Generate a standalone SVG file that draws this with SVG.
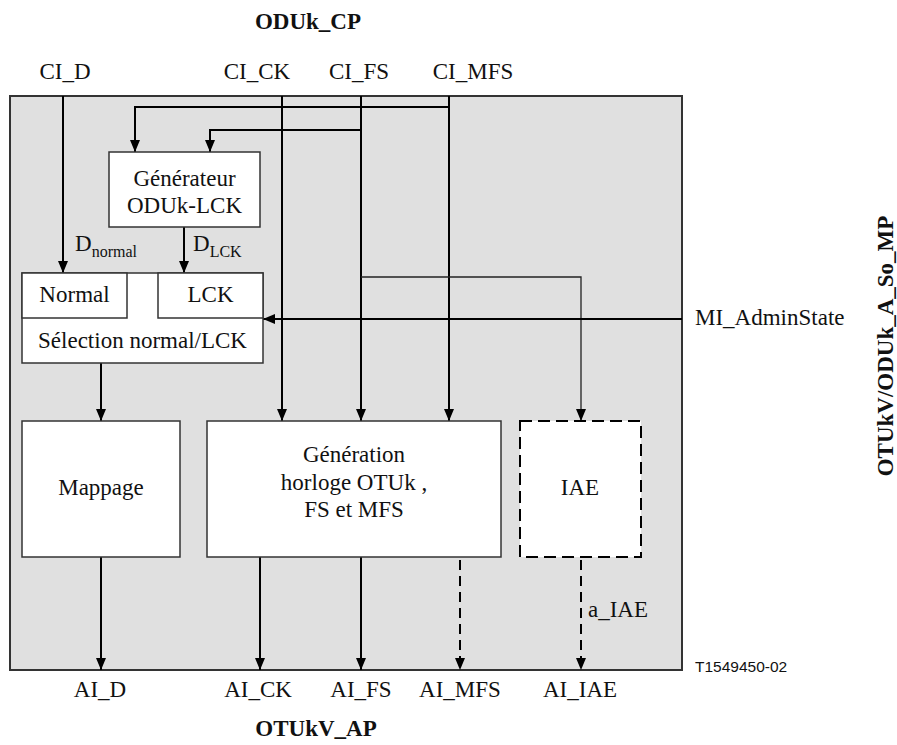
<svg xmlns="http://www.w3.org/2000/svg" width="897" height="745" viewBox="0 0 897 745">
<style>
.s{font-family:"Times New Roman","Liberation Serif",serif;font-size:23px;fill:#111}
.b{font-weight:bold}
.m{text-anchor:middle}
.box{fill:#fff;stroke:#333;stroke-width:1.5}
.c{fill:none;stroke:#000;stroke-width:2}
.t{fill:none;stroke:#222;stroke-width:1.3}
.d{fill:none;stroke:#000;stroke-width:2;stroke-dasharray:10,6}
.a{marker-end:url(#ah)}
.sub{font-size:16px}
.code{font-family:Arial,"Liberation Sans",sans-serif;font-size:15.5px;fill:#111}
</style>
<defs>
<marker id="ah" viewBox="0 0 12 10" refX="12" refY="5" markerWidth="12" markerHeight="10" markerUnits="userSpaceOnUse" orient="auto">
<path d="M0,0 L12,5 L0,10 z" fill="#000"/>
</marker>
</defs>
<rect id="frame" x="10" y="96" width="672" height="574" fill="#e0e0e0" stroke="#333" stroke-width="2"/>
<g id="labels">
<text class="s b m" x="308" y="29">ODUk_CP</text>
<text class="s m" x="65" y="79">CI_D</text>
<text class="s m" x="257" y="79">CI_CK</text>
<text class="s m" x="359" y="79">CI_FS</text>
<text class="s m" x="473" y="79">CI_MFS</text>
<text class="s" x="695" y="325">MI_AdminState</text>
<text class="s m" x="100" y="697">AI_D</text>
<text class="s m" x="258" y="697">AI_CK</text>
<text class="s m" x="361" y="697">AI_FS</text>
<text class="s m" x="460" y="697">AI_MFS</text>
<text class="s m" x="580" y="697">AI_IAE</text>
<text class="s b m" x="316" y="736">OTUkV_AP</text>
<text class="s b m" transform="translate(893,346) rotate(-90)">OTUkV/ODUk_A_So_MP</text>
<text class="code" x="695" y="672">T1549450-02</text>
<text class="s" x="75" y="251">D<tspan class="sub" dy="6">normal</tspan></text>
<text class="s" x="193" y="251">D<tspan class="sub" dy="6">LCK</tspan></text>
<text class="s" x="588" y="617">a_IAE</text>
</g>
<g id="connectors">
<path class="c a" d="M63,96 V273"/>
<path class="c a" d="M282,96 V421"/>
<path class="c a" d="M361,96 V421"/>
<path class="c a" d="M449,96 V421"/>
<path class="c a" d="M449,107 H135 V152"/>
<path class="c a" d="M361,130 H210 V152"/>
<path class="c a" d="M184,227 V273"/>
<path class="t a" d="M361,277 H581 V421"/>
<path class="c a" d="M682,319 H263"/>
<path class="c a" d="M101,363 V421"/>
<path class="c a" d="M101,557 V670"/>
<path class="c a" d="M260,557 V670"/>
<path class="c a" d="M361,557 V670"/>
<path class="d a" d="M460,560 V670"/>
<path class="d a" d="M581,560 V670"/>
</g>
<g id="generateur">
<rect class="box" x="109" y="152" width="151" height="75"/>
<text class="s m" x="184.5" y="186">Générateur</text>
<text class="s m" x="184.5" y="213">ODUk-LCK</text>
</g>
<g id="selection">
<rect class="box" x="22" y="273" width="241" height="90"/>
<rect class="box" x="22" y="273" width="105" height="45"/>
<rect class="box" x="158" y="273" width="105" height="45"/>
<text class="s m" x="74.5" y="302">Normal</text>
<text class="s m" x="210.5" y="302">LCK</text>
<text class="s m" x="142.5" y="348">Sélection normal/LCK</text>
</g>
<g id="mappage">
<rect class="box" x="22" y="421" width="158" height="136"/>
<text class="s m" x="101" y="495">Mappage</text>
</g>
<g id="generation">
<rect class="box" x="207" y="421" width="294" height="136"/>
<text class="s m" x="354" y="462">Génération</text>
<text class="s m" x="354" y="490">horloge OTUk ,</text>
<text class="s m" x="354" y="517">FS et MFS</text>
</g>
<g id="iae">
<rect x="520" y="421" width="121" height="136" fill="#fff" stroke="#000" stroke-width="2" stroke-dasharray="12,6"/>
<text class="s m" x="580" y="495">IAE</text>
</g>
</svg>
